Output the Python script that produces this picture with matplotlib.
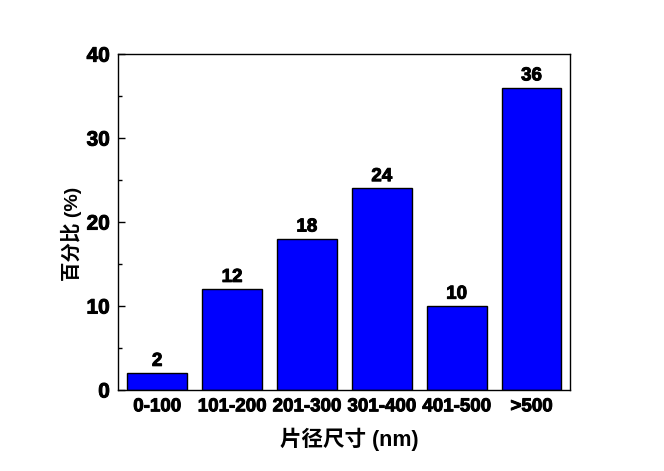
import matplotlib
matplotlib.use("Agg")
import matplotlib.pyplot as plt
import matplotlib.patheffects as pe
from matplotlib.ticker import MultipleLocator

plt.rcParams['font.family'] = ['Liberation Sans', 'Noto Sans CJK SC', 'DejaVu Sans']
plt.rcParams['font.weight'] = 'bold'

# ---------- data ----------
categories = ["0-100", "101-200", "201-300", "301-400", "401-500", ">500"]
percent = [2, 12, 18, 24, 10, 36]

# heavier look like the original Arial Black-ish text
heavy = [pe.withStroke(linewidth=0.7, foreground="black")]

# ---------- plot ----------
fig = plt.figure(figsize=(6.64, 4.71), dpi=100)
ax = fig.add_axes([0.178, 0.172, 0.681, 0.713])

x = list(range(len(categories)))
bars = ax.bar(x, percent, width=0.8, color="#0000FF", edgecolor="black", linewidth=1)

for xi, v in zip(x, percent):
    ax.text(xi, v + 0.4, str(v), ha="center", va="bottom", fontsize=13.5,
            fontweight="bold", path_effects=heavy)

ax.set_xlim(-0.52, 5.52)
ax.set_ylim(0, 40)
ax.set_xticks(x)
ax.set_xticklabels(categories, fontsize=13.5, fontweight="bold")
ax.yaxis.set_major_locator(MultipleLocator(10))
ax.yaxis.set_minor_locator(MultipleLocator(5))
ax.tick_params(axis="y", which="major", direction="in", length=5, width=1, labelsize=15, pad=6)
ax.tick_params(axis="y", which="minor", direction="in", length=3, width=1)
ax.tick_params(axis="x", length=0, pad=6)
for lab in ax.get_xticklabels() + ax.get_yticklabels():
    lab.set_path_effects(heavy)
for s in ax.spines.values():
    s.set_linewidth(1)

ax.set_xlabel("片径尺寸 (nm)", fontsize=15.5, fontweight="bold", labelpad=9)
ax.set_ylabel("百分比 (%)", fontsize=14, fontweight="bold", labelpad=3)
# labels sit a bit off-centre in the original
ax.xaxis.label.set_x(0.512)
ax.yaxis.label.set_y(0.465)

fig.savefig("out.png", dpi=100)
